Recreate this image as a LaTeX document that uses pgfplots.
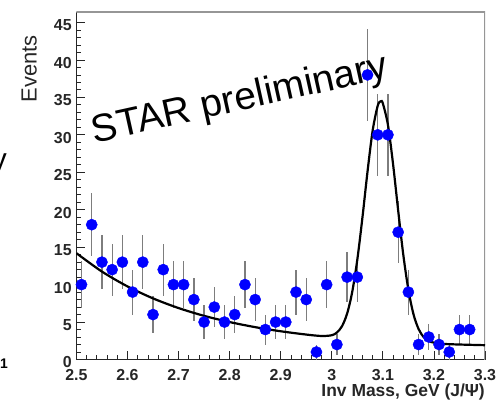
\documentclass[border=0pt]{standalone}
\usepackage{pgfplots}
\pgfplotsset{compat=1.18}
\usepackage{pgfplotstable}
\usepackage{fontspec}
\setmainfont{Liberation Sans}
\definecolor{rootblue}{RGB}{0,0,255}
\definecolor{errgray}{RGB}{125,125,125}
\definecolor{framegray}{RGB}{150,150,150}

\pgfplotstableread{
x y err
2.51 10 3.16
2.53 18 4.24
2.55 13 3.61
2.57 12 3.46
2.59 13 3.61
2.61 9 3.00
2.63 13 3.61
2.65 6 2.45
2.67 12 3.46
2.69 10 3.16
2.71 10 3.16
2.73 8 2.83
2.75 5 2.24
2.77 7 2.65
2.79 5 2.24
2.81 6 2.45
2.83 10 3.16
2.85 8 2.83
2.87 4 2.00
2.89 5 2.24
2.91 5 2.24
2.93 9 3.00
2.95 8 2.83
2.97 1 1.00
2.99 10 3.16
3.01 2 1.41
3.03 11 3.32
3.05 11 3.32
3.07 38 6.16
3.09 30 5.48
3.11 30 5.48
3.13 17 4.12
3.15 9 3.00
3.17 2 1.41
3.19 3 1.73
3.21 2 1.41
3.23 1 1.00
3.25 4 2.00
3.27 4 2.00
}\datatable

\pgfplotstableread{
x y
2.50 14.20
2.55 11.74
2.60 9.76
2.65 8.16
2.70 6.87
2.75 5.83
2.80 5.00
2.85 4.32
2.90 3.77
2.95 3.33
2.98 3.14
3.00 3.24
3.01 3.60
3.02 4.44
3.03 6.12
3.04 9.01
3.05 13.33
3.06 18.94
3.07 25.10
3.08 30.56
3.09 33.90
3.096 34.48
3.10 34.19
3.11 31.32
3.12 26.09
3.13 19.89
3.14 14.00
3.15 9.30
3.16 6.04
3.17 4.06
3.18 2.99
3.19 2.47
3.20 2.25
3.22 2.08
3.25 2.00
3.30 1.91
}\fittable

\begin{document}
\begin{tikzpicture}
\useasboundingbox (-76.4bp,-45.5bp) rectangle (420.6bp,359.5bp);
\begin{axis}[
  at={(0,0)}, anchor=south west,
  scale only axis,
  width=408.6bp, height=347.5bp,
  xmin=2.5, xmax=3.3, ymin=0, ymax=46.4,
  axis lines*=left,
  axis line style={black!85, line width=1bp},
  tick align=inside,
  xtick={2.5,2.6,2.7,2.8,2.9,3.0,3.1,3.2,3.3},
  xticklabels={2.5,2.6,2.7,2.8,2.9,3,3.1,3.2,3.3},
  ytick={0,5,10,15,20,25,30,35,40,45},
  minor x tick num=4,
  minor y tick num=4,
  major tick length=9bp,
  minor tick length=4.5bp,
  every tick/.style={black!85, line width=0.8bp},
  /pgf/number format/assume math mode=true,
  ticklabel style={font=\fontsize{16}{16}\selectfont\bfseries, text=black!85},
  xticklabel style={anchor=base, inner sep=0pt, yshift=-20.5bp},
  yticklabel style={anchor=east, inner sep=0pt, xshift=-4.5bp, yshift=-3bp},
  xlabel={Inv Mass, GeV (J/Ψ)},
  xlabel style={at={(axis description cs:1,-0.107)}, anchor=base east, inner sep=0pt,
    font=\fontsize{17.5}{18}\selectfont\bfseries, text=black!85},
  ylabel={Events},
  ylabel style={at={(axis description cs:-0.0972,0.9338)}, anchor=base east, inner sep=0pt,
    font=\fontsize{22}{22}\selectfont, text=black!85},
]
\draw[framegray, line width=1.2bp] (rel axis cs:0,1) -- (rel axis cs:1,1) -- (rel axis cs:1,0);

\addplot[draw=none, mark=none, forget plot,
  error bars/.cd, y dir=both, y explicit,
  error bar style={errgray, line width=1.3bp}, error mark=none]
  table[x=x, y=y, y error=err] {\datatable};

\addplot[black, line width=2.2bp, smooth, mark=none] table[x=x, y=y] {\fittable};

\addplot[only marks, mark=*, mark size=5.6bp, mark options={fill=rootblue, draw=rootblue}]
  table[x=x, y=y] {\datatable};

\node[rotate=12.5, anchor=base west, inner sep=0pt, font=\fontsize{39}{39}\selectfont]
  at (axis cs:2.536,28.9) {STAR preliminary};
\end{axis}
\node[anchor=base east, inner sep=0pt, font=\fontsize{30}{30}\selectfont] at (-69.4bp,189.5bp) {y};
\node[anchor=base east, inner sep=0pt, font=\fontsize{14}{14}\selectfont\bfseries] at (-68.4bp,-8.5bp) {1};
\end{tikzpicture}
\end{document}
